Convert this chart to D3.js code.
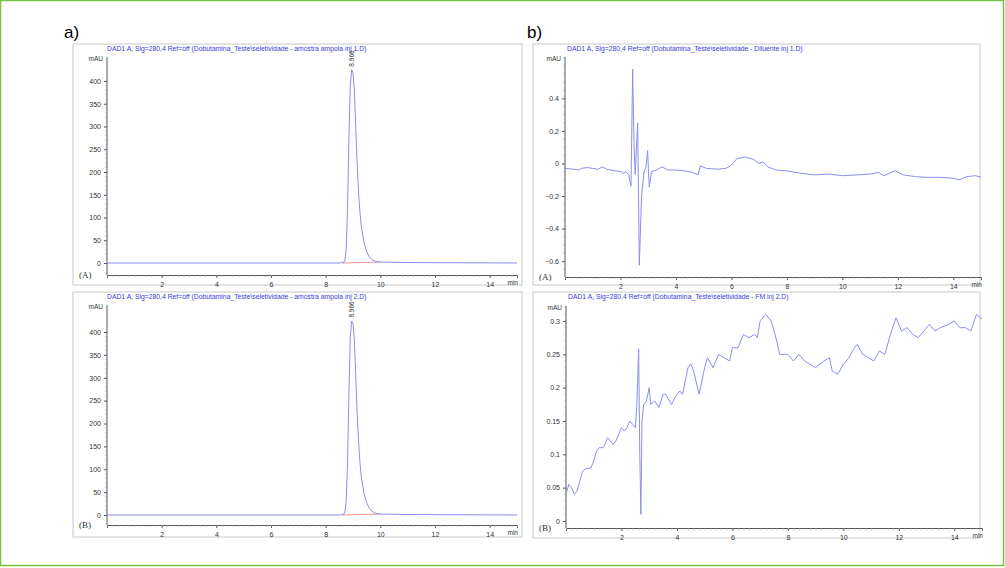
<!DOCTYPE html>
<html><head><meta charset="utf-8">
<script src="https://cdn.jsdelivr.net/npm/d3@7"></script>
<style>body{margin:0;background:#fff}svg{display:block}</style></head>
<body><svg id="c" width="1005" height="568"></svg>
<script>
const xTicks=[2,4,6,8,10,12,14];
const titles=["DAD1 A, Sig=280,4 Ref=off (Dobutamina_Teste\\seletividade - amostra ampola inj 1.D)",
"DAD1 A, Sig=280,4 Ref=off (Dobutamina_Teste\\seletividade - amostra ampola inj 2.D)",
"DAD1 A, Sig=280,4 Ref=off (Dobutamina_Teste\\seletividade - Diluente inj 1.D)",
"DAD1 A, Sig=280,4 Ref=off (Dobutamina_Teste\\seletividade - FM inj 2.D)"];
const yTicksA=[0,50,100,150,200,250,300,350,400];
const yTicksDil=[-0.6,-0.4,-0.2,0,0.2,0.4];
const yTicksFM=[0,0.05,0.1,0.15,0.2,0.25,0.3];
const peakLabel="8.966";
const sampleA=[[0,0],[8.55,0],[8.6,3],[8.65,0.5],[8.7,5],[8.75,30],[8.8,120],[8.85,270],[8.9,390],[8.95,425],[9.0,418],[9.05,380],[9.1,300],[9.15,220],[9.2,160],[9.25,115],[9.3,82],[9.4,45],[9.5,25],[9.6,13],[9.7,7],[9.8,4],[10,2],[11,1],[15,0]];
const sampleB=[[0,0],[8.55,0],[8.6,2],[8.65,0.5],[8.7,5],[8.75,28],[8.8,115],[8.85,265],[8.9,388],[8.95,424],[9.0,418],[9.05,382],[9.1,305],[9.15,225],[9.2,165],[9.25,118],[9.3,85],[9.4,48],[9.5,27],[9.6,14],[9.7,8],[9.8,4],[10,2],[11,1],[15,0]];
const baseline=[[8.6,0],[10,2]];
const diluent=[[0,-0.03],[0.3,-0.035],[0.5,-0.04],[0.6,-0.03],[0.8,-0.025],[1.0,-0.03],[1.2,-0.035],[1.35,-0.02],[1.5,-0.035],[1.8,-0.045],[2.0,-0.05],[2.1,-0.06],[2.2,-0.05],[2.3,-0.07],[2.38,-0.14],[2.44,0.58],[2.49,0.1],[2.53,-0.067],[2.62,0.25],[2.65,-0.2],[2.68,-0.625],[2.76,-0.2],[2.85,-0.05],[2.92,-0.02],[2.98,0.08],[3.01,-0.05],[3.04,-0.146],[3.12,-0.05],[3.3,-0.04],[3.5,-0.02],[3.7,-0.04],[4.0,-0.04],[4.3,-0.045],[4.6,-0.055],[4.8,-0.07],[4.88,-0.015],[5.1,-0.03],[5.5,-0.035],[5.8,-0.03],[6.0,-0.01],[6.2,0.03],[6.5,0.04],[6.8,0.025],[7.0,0.0],[7.15,0.01],[7.3,-0.02],[7.6,-0.04],[8.0,-0.045],[8.5,-0.06],[9.0,-0.07],[9.5,-0.065],[10,-0.075],[10.5,-0.07],[11.0,-0.065],[11.3,-0.055],[11.5,-0.075],[11.9,-0.045],[12.2,-0.07],[12.6,-0.08],[13,-0.085],[13.5,-0.085],[14,-0.09],[14.2,-0.1],[14.5,-0.08],[14.8,-0.075],[15,-0.085]];
const mobilePhase=[[0,0.04],[0.1,0.055],[0.2,0.05],[0.3,0.04],[0.4,0.045],[0.5,0.06],[0.6,0.075],[0.7,0.078],[0.9,0.08],[1.0,0.09],[1.1,0.105],[1.2,0.11],[1.35,0.11],[1.5,0.125],[1.6,0.12],[1.7,0.115],[1.8,0.12],[2.0,0.14],[2.1,0.135],[2.2,0.14],[2.3,0.15],[2.4,0.145],[2.5,0.14],[2.55,0.17],[2.62,0.258],[2.66,0.1],[2.7,0.01],[2.74,0.15],[2.8,0.175],[2.9,0.18],[3.0,0.2],[3.05,0.175],[3.2,0.18],[3.35,0.17],[3.5,0.19],[3.6,0.19],[3.8,0.175],[4.0,0.19],[4.1,0.195],[4.2,0.19],[4.3,0.21],[4.4,0.23],[4.5,0.236],[4.6,0.225],[4.8,0.19],[5.0,0.23],[5.1,0.245],[5.3,0.23],[5.5,0.25],[5.7,0.245],[5.9,0.24],[6.0,0.26],[6.2,0.26],[6.4,0.28],[6.6,0.275],[6.8,0.28],[6.9,0.275],[7.0,0.3],[7.2,0.31],[7.4,0.3],[7.6,0.27],[7.7,0.25],[7.9,0.25],[8.0,0.25],[8.2,0.24],[8.4,0.25],[8.6,0.24],[8.8,0.235],[9.0,0.23],[9.3,0.24],[9.5,0.245],[9.6,0.225],[9.8,0.22],[10.0,0.235],[10.2,0.245],[10.4,0.26],[10.5,0.265],[10.7,0.25],[10.9,0.245],[11.1,0.24],[11.3,0.255],[11.5,0.25],[11.7,0.28],[11.9,0.305],[12.1,0.285],[12.3,0.29],[12.5,0.28],[12.7,0.275],[12.9,0.285],[13.1,0.295],[13.3,0.285],[13.5,0.29],[13.8,0.295],[14.0,0.3],[14.2,0.29],[14.4,0.29],[14.6,0.285],[14.8,0.31],[15,0.303]];

const svg=d3.select("#c");
svg.append("rect").attr("x",0.5).attr("y",0.5).attr("width",1003).attr("height",565).attr("fill","none").attr("stroke","#7ac143").attr("stroke-width",1.5);
svg.append("text").attr("x",64).attr("y",38).attr("font-family","Liberation Sans,Arial").attr("font-size",17).text("a)");
svg.append("text").attr("x",527).attr("y",38).attr("font-family","Liberation Sans,Arial").attr("font-size",17).text("b)");

const LINE="#8c8ef0";
function panel(o){
  const g=svg.append("g");
  g.append("rect").attr("x",o.bx).attr("y",o.by).attr("width",o.bw).attr("height",o.bh).attr("fill","none").attr("stroke","#c8c8c8");
  const x=d3.scaleLinear().domain([0,15]).range([o.x0,o.x1]);
  const y=d3.scaleLinear().domain(o.yd).range(o.yr);
  const ax=g.append("g").attr("transform",`translate(0,${o.axY})`).call(d3.axisBottom(x).tickValues(xTicks).tickSize(3).tickFormat(d3.format("d")));
  ax.select(".domain").attr("stroke","#555");
  ax.selectAll("text").attr("font-size",7).attr("font-family","Liberation Sans,Arial").attr("fill","#333").attr("dy","0.9em");
  ax.selectAll(".tick line").attr("stroke","#555");
  g.append("g").attr("transform",`translate(0,${o.axY})`).call(d3.axisBottom(x).ticks(60).tickSize(1.5).tickFormat("")).call(s=>s.select(".domain").remove()).selectAll("line").attr("stroke","#888");
  const ay=g.append("g").attr("transform",`translate(${o.x0},0)`).call(d3.axisLeft(y).tickValues(o.yt).tickSize(3).tickFormat(o.fmt));
  ay.select(".domain").attr("stroke","#555").attr("d",`M0,${o.topY}V${o.axY}`);
  ay.selectAll("text").attr("font-size",7).attr("font-family","Liberation Sans,Arial").attr("fill","#333");
  ay.selectAll(".tick line").attr("stroke","#555");
  const minor=d3.range(o.yd[0],o.yd[1]+1e-9,o.minor).filter(v=>y(v)>=o.topY&&y(v)<=o.axY);
  g.selectAll(".mn").data(minor).join("line").attr("x1",o.x0-1.5).attr("x2",o.x0).attr("y1",d=>y(d)).attr("y2",d=>y(d)).attr("stroke","#888").attr("stroke-width",0.6);
  g.append("text").attr("x",o.x0-4).attr("y",o.topY+4).attr("text-anchor","end").attr("font-size",6.5).attr("font-family","Liberation Sans,Arial").attr("fill","#333").text("mAU");
  g.append("text").attr("x",o.x1+1).attr("y",o.axY+10).attr("text-anchor","end").attr("font-size",6.5).attr("font-family","Liberation Sans,Arial").attr("fill","#333").text("min");
  g.append("text").attr("x",o.bx+6).attr("y",o.axY+3).attr("font-size",9).attr("font-family","Liberation Serif,serif").attr("fill","#333").text(o.tag);
  g.append("text").attr("x",o.tx).attr("y",o.by+7).attr("font-size",6.8).attr("font-family","Liberation Sans,Arial").attr("fill","#3a3ae0").text(o.title);
  const ln=d3.line().x(d=>x(d[0])).y(d=>y(d[1]));
  if(o.base) g.append("path").attr("d",ln(o.base)).attr("fill","none").attr("stroke","#e66").attr("stroke-width",0.7);
  g.append("path").attr("d",ln(o.data)).attr("fill","none").attr("stroke",LINE).attr("stroke-width",1);
  if(o.peak){const px=x(8.966),py=y(o.peakY);
    g.append("text").attr("transform",`translate(${px+2},${py-3}) rotate(-90)`).attr("font-size",6.5).attr("font-family","Liberation Sans,Arial").attr("fill","#333").text(peakLabel);}
}
panel({bx:73,by:44,bw:449,bh:241,x0:107,x1:517,yd:[0,400],yr:[263,81],axY:275,topY:57,yt:yTicksA,fmt:d3.format("d"),minor:10,tag:"(A)",title:titles[0],tx:107,data:sampleA,base:baseline,peak:true,peakY:425});
panel({bx:73,by:292,bw:449,bh:245,x0:107,x1:517,yd:[0,400],yr:[515,332],axY:525,topY:305,yt:yTicksA,fmt:d3.format("d"),minor:10,tag:"(B)",title:titles[1],tx:107,data:sampleB,base:baseline,peak:true,peakY:425});
panel({bx:533,by:44,bw:447,bh:241,x0:565,x1:981,yd:[-0.65,0.65],yr:[269.3,57.7],axY:277,topY:57,yt:yTicksDil,fmt:d=>d===0?"0":d3.format(".1f")(d),minor:0.05,tag:"(A)",title:titles[2],tx:567,data:diluent});
panel({bx:533,by:292,bw:447,bh:246,x0:566,x1:982,yd:[0,0.32],yr:[521,307.7],axY:528,topY:306,yt:yTicksFM,fmt:d=>d===0?"0":String(d),minor:0.01,tag:"(B)",title:titles[3],tx:568,data:mobilePhase});
</script></body></html>
